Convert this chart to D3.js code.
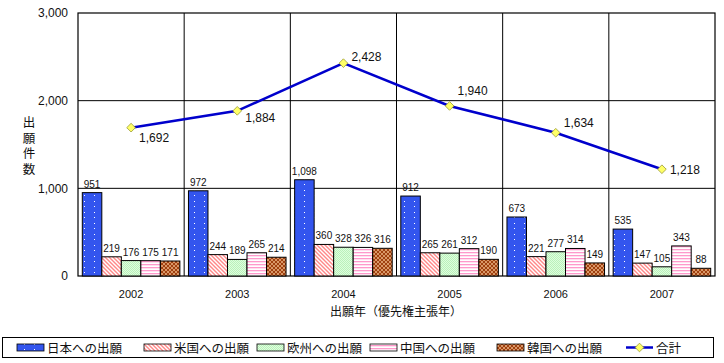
<!DOCTYPE html>
<html><head><meta charset="utf-8">
<script src="https://cdn.jsdelivr.net/npm/d3@7"></script>
<style>
body{margin:0;background:#fff;}
text{font-family:"Liberation Sans",Arial,"Noto Sans CJK JP",sans-serif;}
.jp{font-family:"Noto Sans CJK JP",sans-serif;}
</style></head>
<body><svg id="c" width="724" height="363"></svg>
<script>
const years = ["2002","2003","2004","2005","2006","2007"];
const seriesNames = ["日本への出願","米国への出願","欧州への出願","中国への出願","韓国への出願"];
const japan = [951,972,1098,912,673,535];
const usa = [219,244,360,265,221,147];
const europe = [176,189,328,261,277,105];
const china = [175,265,326,312,314,343];
const korea = [171,214,316,190,149,88];
const total = [1692,1884,2428,1940,1634,1218];
const totalName = "合計";
const yTicks = [0,1000,2000,3000];
const xTitle = "出願年（優先権主張年）";
const yTitle = "出願件数";

const series = [japan,usa,europe,china,korea];
const totalLabelDy = [10,7,-6,-15,-10,1];

const svg = d3.select("#c");
const defs = svg.append("defs");
// patterns
let p = defs.append("pattern").attr("id","p0").attr("patternUnits","userSpaceOnUse").attr("width",10).attr("height",11);
p.append("rect").attr("width",10).attr("height",11).attr("fill","#3355ee");
p.append("rect").attr("x",4).attr("y",3).attr("width",1).attr("height",1).attr("fill","#fff");
p.append("rect").attr("x",4).attr("y",8).attr("width",1).attr("height",1).attr("fill","#fff");
p = defs.append("pattern").attr("id","p1").attr("patternUnits","userSpaceOnUse").attr("width",4).attr("height",4);
p.append("rect").attr("width",4).attr("height",4).attr("fill","#fff");
p.append("path").attr("d","M-1,-1 L5,5 M-1,3 L1,5 M3,-1 L5,1").attr("stroke","#ff8888").attr("stroke-width",1.4);
p = defs.append("pattern").attr("id","p2").attr("patternUnits","userSpaceOnUse").attr("width",2).attr("height",2);
p.append("rect").attr("width",2).attr("height",2).attr("fill","#ddffdd");
p.append("rect").attr("width",1).attr("height",1).attr("fill","#bbf0bb");
p.append("rect").attr("x",1).attr("y",1).attr("width",1).attr("height",1).attr("fill","#bbf0bb");
p = defs.append("pattern").attr("id","p3").attr("patternUnits","userSpaceOnUse").attr("width",3).attr("height",3);
p.append("rect").attr("width",3).attr("height",3).attr("fill","#fff");
p.append("rect").attr("y",0).attr("width",3).attr("height",1.3).attr("fill","#ff99cc");
p = defs.append("pattern").attr("id","p4").attr("patternUnits","userSpaceOnUse").attr("width",4).attr("height",4);
p.append("rect").attr("width",4).attr("height",4).attr("fill","#a0400f");
p.append("path").attr("d","M-1,-1 L5,5 M-1,5 L5,-1").attr("stroke","#e0a070").attr("stroke-width",0.9);

const m = {l:78, r:715, t:13, b:276};
const x = d3.scaleBand().domain(years).range([m.l,m.r]).paddingInner(0).paddingOuter(0);
const xi = d3.scaleBand().domain(d3.range(5)).range([4.3, x.bandwidth()-4.3]);
const y = d3.scaleLinear().domain([0,3000]).range([m.b,m.t]);

// gridlines
svg.append("g").selectAll("line").data(yTicks.slice(1,3)).join("line")
  .attr("x1",m.l).attr("x2",m.r).attr("y1",d=>y(d)).attr("y2",d=>y(d)).attr("stroke","#000").attr("stroke-width",1);
// separators
svg.append("g").selectAll("line").data(years.slice(1)).join("line")
  .attr("x1",d=>x(d)).attr("x2",d=>x(d)).attr("y1",m.t).attr("y2",m.b).attr("stroke","#000");
svg.append("rect").attr("x",m.l).attr("y",m.t).attr("width",m.r-m.l).attr("height",m.b-m.t).attr("fill","none").attr("stroke","#000").attr("stroke-width",1.2);

// bars
series.forEach((vals,si)=>{
  const g = svg.append("g");
  g.selectAll("rect").data(vals).join("rect")
    .attr("x",(d,i)=>x(years[i])+xi(si)).attr("width",xi.bandwidth())
    .attr("y",d=>y(d)).attr("height",d=>y(0)-y(d))
    .attr("fill",`url(#p${si})`).attr("stroke","#000").attr("stroke-width",1);
  g.selectAll("text").data(vals).join("text")
    .attr("x",(d,i)=>x(years[i])+xi(si)+xi.bandwidth()/2).attr("y",d=>y(d)-5)
    .attr("text-anchor","middle").attr("font-size",10).attr("fill","#111")
    .text(d=>d3.format(",")(d));
});

// axes
const ya = svg.append("g").attr("transform",`translate(${m.l},0)`)
  .call(d3.axisLeft(y).tickValues(yTicks).tickFormat(d3.format(",")).tickSize(0).tickPadding(10));
ya.select(".domain").remove();
ya.selectAll("text").attr("font-size",12).attr("fill","#111").attr("font-family","Liberation Sans, Arial, sans-serif");
const xa = svg.append("g").attr("transform",`translate(0,${m.b})`)
  .call(d3.axisBottom(x).tickSize(0).tickPadding(14));
xa.select(".domain").remove();
xa.selectAll("text").attr("font-size",11).attr("fill","#111").attr("font-family","Liberation Sans, Arial, sans-serif");

// line
const cx = d=>x(d)+x.bandwidth()/2;
const line = d3.line().x((d,i)=>cx(years[i])).y(d=>y(d));
svg.append("path").datum(total).attr("d",line).attr("fill","none").attr("stroke","#0000cc").attr("stroke-width",2.6);
const sym = d3.symbol().type(d3.symbolDiamond2).size(48);
svg.append("g").selectAll("path").data(total).join("path")
  .attr("transform",(d,i)=>`translate(${cx(years[i])},${y(d)})`).attr("d",sym)
  .attr("fill","#ffff66").attr("stroke","#999933").attr("stroke-width",0.8);
svg.append("g").selectAll("text").data(total).join("text")
  .attr("x",(d,i)=>cx(years[i])+8).attr("y",(d,i)=>y(d)+totalLabelDy[i]+4)
  .attr("font-size",12).attr("fill","#111").text(d=>d3.format(",")(d));

// titles
svg.append("text").attr("class","jp").attr("x",396).attr("y",316).attr("text-anchor","middle").attr("font-size",12).attr("fill","#111").text(xTitle);
svg.append("text").attr("class","jp")
  .attr("x",29).attr("y",116)
  .style("writing-mode","vertical-rl").style("letter-spacing","3px")
  .attr("font-size",12.5).attr("fill","#111").text(yTitle);

// legend
svg.append("rect").attr("x",2.5).attr("y",337.5).attr("width",711).attr("height",20).attr("fill","#fff").attr("stroke","#000").attr("stroke-width",1);
const legX = [17,144,257,370,497];
seriesNames.forEach((n,i)=>{
  svg.append("rect").attr("x",legX[i]).attr("y",344).attr("width",27).attr("height",7).attr("fill",`url(#p${i})`).attr("stroke","#000").attr("stroke-width",0.8);
  svg.append("text").attr("class","jp").attr("x",legX[i]+30).attr("y",352.5).attr("font-size",12.5).attr("fill","#111").text(n);
});
svg.append("line").attr("x1",626).attr("x2",653).attr("y1",347.5).attr("y2",347.5).attr("stroke","#0000cc").attr("stroke-width",2.5);
svg.append("path").attr("transform","translate(639.5,347.5)").attr("d",sym).attr("fill","#ffff66").attr("stroke","#999933").attr("stroke-width",0.8);
svg.append("text").attr("class","jp").attr("x",656).attr("y",352.5).attr("font-size",12.5).attr("fill","#111").text(totalName);
</script></body></html>
